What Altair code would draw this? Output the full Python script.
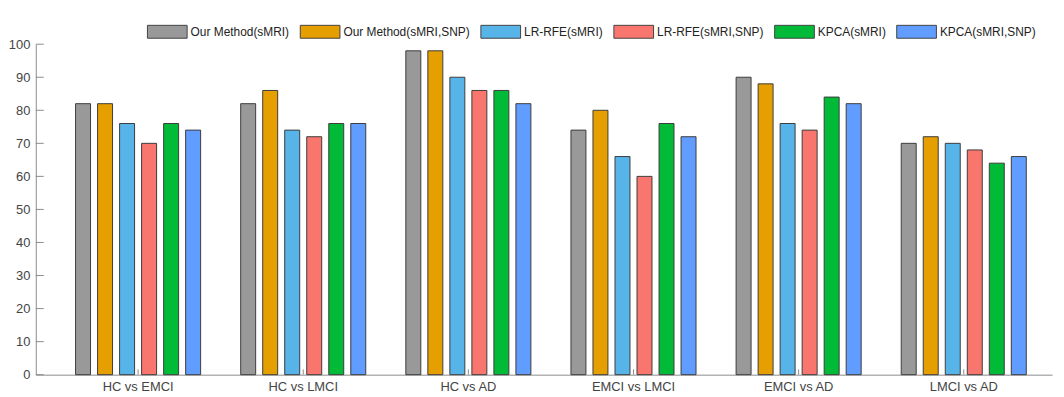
import altair as alt
import pandas as pd

categories = ["HC vs EMCI", "HC vs LMCI", "HC vs AD", "EMCI vs LMCI", "EMCI vs AD", "LMCI vs AD"]
methods = ["Our Method(sMRI)", "Our Method(sMRI,SNP)", "LR-RFE(sMRI)",
           "LR-RFE(sMRI,SNP)", "KPCA(sMRI)", "KPCA(sMRI,SNP)"]

our_smri = [82, 82, 98, 74, 90, 70]
our_smri_snp = [82, 86, 98, 80, 88, 72]
lrrfe_smri = [76, 74, 90, 66, 76, 70]
lrrfe_smri_snp = [70, 72, 86, 60, 74, 68]
kpca_smri = [76, 76, 86, 76, 84, 64]
kpca_smri_snp = [74, 76, 82, 72, 82, 66]

colors = ["#999999", "#E69F00", "#56B4E9", "#F8766D", "#00BA38", "#619CFF"]
y_ticks = [0, 10, 20, 30, 40, 50, 60, 70, 80, 90, 100]

series = [our_smri, our_smri_snp, lrrfe_smri, lrrfe_smri_snp, kpca_smri, kpca_smri_snp]
rows = []
for m, vals in zip(methods, series):
    for c, v in zip(categories, vals):
        rows.append({"category": c, "method": m, "value": v})
df = pd.DataFrame(rows)

FONT = "Liberation Sans"
AXIS_GRAY = "#8c8c8c"
LABEL_GRAY = "#444444"

xscale = alt.Scale(domain=categories, paddingInner=0.2, paddingOuter=0.177, align=0.62)
yscale = alt.Scale(domain=[0, 100], nice=False)

x_axis = alt.Axis(title=None, labelAngle=0, ticks=False, domainColor=AXIS_GRAY,
                  labelFont=FONT, labelFontSize=13, labelColor=LABEL_GRAY, labelPadding=6)
y_axis = alt.Axis(title=None, values=y_ticks, tickCount=11, ticks=False, grid=False,
                  domainColor=AXIS_GRAY, labelOverlap=False, labelFont=FONT, labelFontSize=13,
                  labelColor=LABEL_GRAY, labelPadding=6)

bars = alt.Chart(df).mark_bar(stroke="#3c3c3c", strokeWidth=1).encode(
    x=alt.X("category:N", sort=categories, scale=xscale, axis=x_axis),
    xOffset=alt.XOffset("method:N", sort=methods,
                        scale=alt.Scale(domain=methods, paddingInner=0.32, paddingOuter=0.16)),
    y=alt.Y("value:Q", scale=yscale, axis=y_axis),
    color=alt.Color("method:N", sort=methods,
                    scale=alt.Scale(domain=methods, range=colors),
                    legend=alt.Legend(title=None, orient="none", legendX=112, legendY=-33,
                                      direction="horizontal", columns=6,
                                      symbolType="M-1,-0.325L1,-0.325L1,0.325L-1,0.325Z",
                                      symbolSize=1600, symbolStrokeColor="#444444",
                                      symbolStrokeWidth=1, symbolOpacity=1,
                                      labelFont=FONT, labelFontSize=12, labelColor="#222222",
                                      labelOffset=3, columnPadding=8, gridAlign="each")),
)

ytick_df = pd.DataFrame({"value": y_ticks})
yticks = alt.Chart(ytick_df).mark_rule(color=AXIS_GRAY, strokeWidth=1).encode(
    y=alt.Y("value:Q", scale=yscale, axis=y_axis),
    x=alt.value(0), x2=alt.value(8),
)

xtick_df = pd.DataFrame({"category": categories})
xticks = alt.Chart(xtick_df).mark_rule(color=AXIS_GRAY, strokeWidth=1).encode(
    x=alt.X("category:N", sort=categories, scale=xscale, axis=x_axis),
    y=alt.YDatum(0, type="quantitative", scale=yscale, axis=y_axis),
    y2=alt.Y2Datum(1.6),
)

chart = alt.layer(bars, yticks, xticks).properties(
    width=1024, height=333,
    autosize=alt.AutoSizeParams(type="none"),
    padding={"left": 28, "top": 35, "right": 4, "bottom": 18},
    background="white",
).configure_view(stroke=None)

chart.save("out.html", embed_options={"renderer": "svg", "actions": False})
